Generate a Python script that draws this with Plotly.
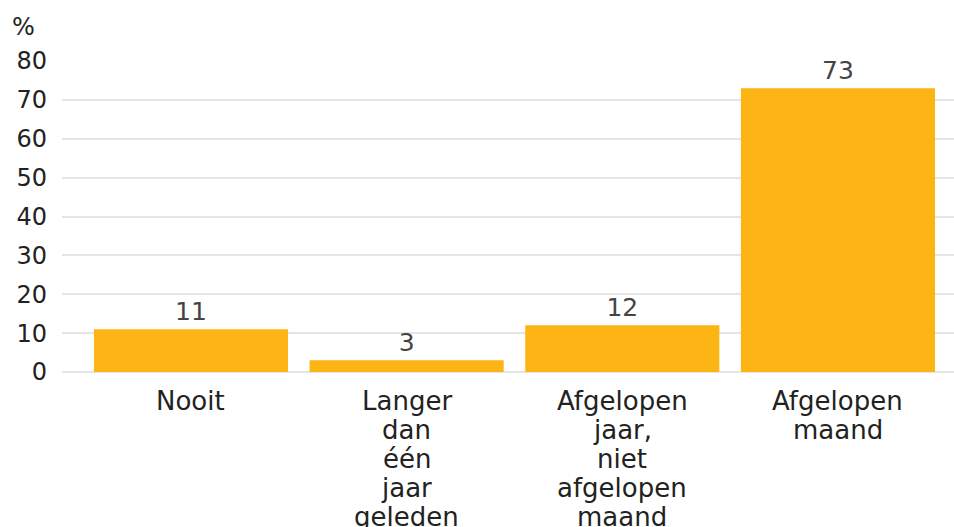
import plotly.graph_objects as go

categories = ["Nooit", "Langer dan één jaar geleden", "Afgelopen jaar, niet afgelopen maand", "Afgelopen maand"]
category_lines = [["Nooit"], ["Langer", "dan", "één", "jaar", "geleden"],
                  ["Afgelopen", "jaar,", "niet", "afgelopen", "maand"], ["Afgelopen", "maand"]]
values = [11, 3, 12, 73]
y_ticks = [0, 10, 20, 30, 40, 50, 60, 70, 80]

FONT = "DejaVu Sans"

fig = go.Figure(go.Bar(
    x=categories, y=values,
    marker=dict(color="#FDB515", line=dict(width=0)),
    text=[str(v) for v in values], textposition="outside",
    textfont=dict(family=FONT, size=25, color="#444444"),
    cliponaxis=False,
))

annotations = [dict(text="%", xref="paper", yref="paper", x=0, y=1, xanchor="left",
                    yanchor="bottom", xshift=-52, yshift=18, showarrow=False,
                    font=dict(family=FONT, size=24, color="#222222"))]
for cat, lines in zip(categories, category_lines):
    for i, line in enumerate(lines):
        annotations.append(dict(text=line, xref="x", yref="y", x=cat, y=0,
                                xanchor="center", yanchor="top", yshift=-12 - 29 * i,
                                showarrow=False,
                                font=dict(family=FONT, size=26, color="#222222")))

fig.update_layout(
    width=954, height=527,
    margin=dict(l=62, r=0, t=61, b=155, autoexpand=False),
    plot_bgcolor="white", paper_bgcolor="white",
    font=dict(family=FONT, size=24, color="#222222"),
    bargap=0.1,
    showlegend=False,
    xaxis=dict(range=[-0.598, 3.538], showgrid=False, showline=False, ticks="",
               showticklabels=False, automargin=False),
    yaxis=dict(range=[0, 80], tickvals=y_ticks, showgrid=True, gridcolor="#E5E5E5",
               gridwidth=2, zeroline=True, zerolinecolor="#E5E5E5", zerolinewidth=2,
               ticks="", ticklabelstandoff=14, automargin=False,
               tickfont=dict(family=FONT, size=24, color="#222222")),
    annotations=annotations,
)

fig.write_html("out.html", config={"displayModeBar": False},
               post_script="document.body.style.margin='0';document.body.style.overflow='hidden';")
